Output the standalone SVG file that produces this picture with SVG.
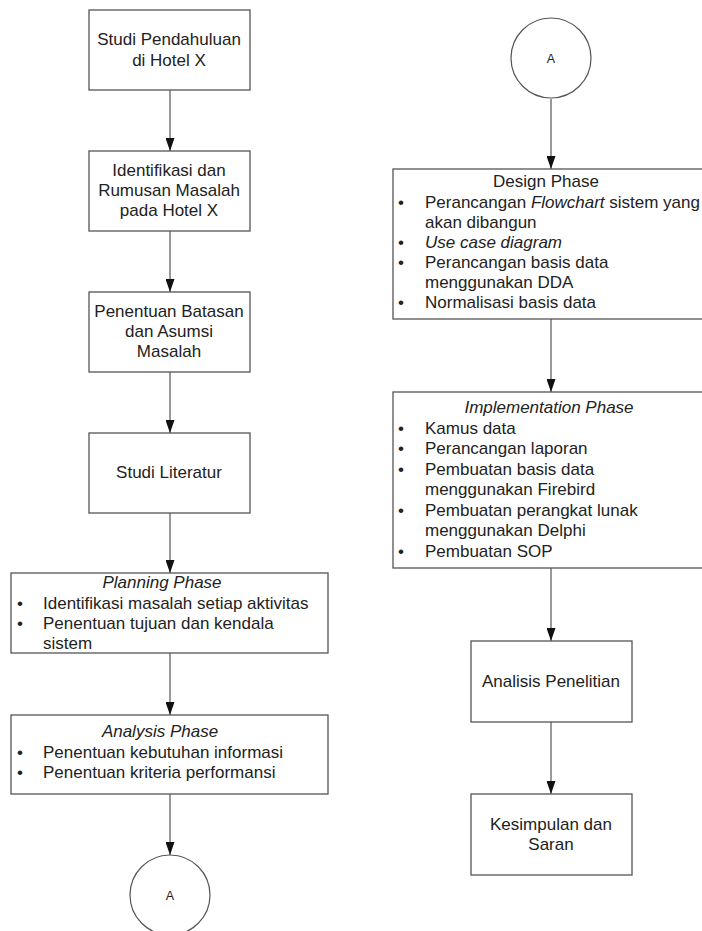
<svg xmlns="http://www.w3.org/2000/svg" width="702" height="931" viewBox="0 0 702 931">
<defs>
<marker id="ah" markerUnits="userSpaceOnUse" markerWidth="9" markerHeight="13" refX="4.5" refY="13" orient="0" viewBox="0 0 9 13">
<path d="M0,0 L9,0 L4.5,13 Z" fill="#111"/>
</marker>
<style>
.box{fill:#fff;stroke:#555;stroke-width:1.3}
.t{font-family:"Liberation Sans",Arial,sans-serif;font-size:17px;fill:#222}
.c{text-anchor:middle}
.i{font-style:italic}
.a{font-family:"Liberation Sans",Arial,sans-serif;font-size:12.5px;fill:#222;text-anchor:middle}
.e{stroke:#555;stroke-width:1.2;fill:none;marker-end:url(#ah)}
</style>
</defs>
<rect width="702" height="931" fill="#fff"/>
<g id="connectors">
<line class="e" x1="170" y1="90" x2="170" y2="151"/>
<line class="e" x1="170" y1="231" x2="170" y2="292"/>
<line class="e" x1="170" y1="372" x2="170" y2="433"/>
<line class="e" x1="170" y1="513" x2="170" y2="573"/>
<line class="e" x1="170" y1="653" x2="170" y2="715"/>
<line class="e" x1="170" y1="794" x2="170" y2="855"/>
<line class="e" x1="551" y1="99" x2="551" y2="169"/>
<line class="e" x1="551" y1="319" x2="551" y2="392"/>
<line class="e" x1="551" y1="568" x2="551" y2="641"/>
<line class="e" x1="551" y1="722" x2="551" y2="794"/>
</g>
<g id="n1">
<rect class="box" x="89" y="10" width="161" height="80"/>
<text class="t c" x="169" y="45">Studi Pendahuluan</text>
<text class="t c" x="169" y="66">di Hotel X</text>
</g>
<g id="n2">
<rect class="box" x="89" y="151" width="161" height="80"/>
<text class="t c" x="169" y="176">Identifikasi dan</text>
<text class="t c" x="169" y="196">Rumusan Masalah</text>
<text class="t c" x="169" y="216">pada Hotel X</text>
</g>
<g id="n3">
<rect class="box" x="89" y="292" width="161" height="80"/>
<text class="t c" x="169" y="317">Penentuan Batasan</text>
<text class="t c" x="169" y="337">dan Asumsi</text>
<text class="t c" x="169" y="357">Masalah</text>
</g>
<g id="n4">
<rect class="box" x="89" y="433" width="161" height="80"/>
<text class="t c" x="169" y="478">Studi Literatur</text>
</g>
<g id="n5">
<rect class="box" x="11" y="573" width="317" height="80"/>
<text class="t c i" x="162" y="588">Planning Phase</text>
<text class="t" x="17" y="609">•</text>
<text class="t" x="43" y="609">Identifikasi masalah setiap aktivitas</text>
<text class="t" x="17" y="629">•</text>
<text class="t" x="43" y="629">Penentuan tujuan dan kendala</text>
<text class="t" x="43" y="649">sistem</text>
</g>
<g id="n6">
<rect class="box" x="11" y="715" width="317" height="79"/>
<text class="t c i" x="160" y="737">Analysis Phase</text>
<text class="t" x="17" y="758">•</text>
<text class="t" x="43" y="758">Penentuan kebutuhan informasi</text>
<text class="t" x="17" y="778">•</text>
<text class="t" x="43" y="778">Penentuan kriteria performansi</text>
</g>
<g id="n7">
<circle cx="170" cy="895" r="40" fill="#fff" stroke="#555" stroke-width="1.2"/>
<text class="a" x="170" y="900">A</text>
</g>
<g id="n8">
<circle cx="551" cy="58" r="40" fill="#fff" stroke="#555" stroke-width="1.2"/>
<text class="a" x="551" y="63">A</text>
</g>
<g id="n9">
<rect class="box" x="393" y="169" width="316" height="150"/>
<text class="t c" x="546" y="187">Design Phase</text>
<text class="t" x="398" y="208">•</text>
<text class="t" x="425" y="208">Perancangan <tspan class="i">Flowchart</tspan> sistem yang</text>
<text class="t" x="425" y="228">akan dibangun</text>
<text class="t" x="398" y="248">•</text>
<text class="t i" x="425" y="248">Use case diagram</text>
<text class="t" x="398" y="268">•</text>
<text class="t" x="425" y="268">Perancangan basis data</text>
<text class="t" x="425" y="288">menggunakan DDA</text>
<text class="t" x="398" y="308">•</text>
<text class="t" x="425" y="308">Normalisasi basis data</text>
</g>
<g id="n10">
<rect class="box" x="393" y="392" width="316" height="176"/>
<text class="t c i" x="549" y="413">Implementation Phase</text>
<text class="t" x="398" y="434">•</text>
<text class="t" x="425" y="434">Kamus data</text>
<text class="t" x="398" y="454">•</text>
<text class="t" x="425" y="454">Perancangan laporan</text>
<text class="t" x="398" y="475">•</text>
<text class="t" x="425" y="475">Pembuatan basis data</text>
<text class="t" x="425" y="495">menggunakan Firebird</text>
<text class="t" x="398" y="516">•</text>
<text class="t" x="425" y="516">Pembuatan perangkat lunak</text>
<text class="t" x="425" y="536">menggunakan Delphi</text>
<text class="t" x="398" y="557">•</text>
<text class="t" x="425" y="557">Pembuatan SOP</text>
</g>
<g id="n11">
<rect class="box" x="471" y="641" width="161" height="81"/>
<text class="t c" x="551" y="687">Analisis Penelitian</text>
</g>
<g id="n12">
<rect class="box" x="471" y="794" width="161" height="81"/>
<text class="t c" x="551" y="830">Kesimpulan dan</text>
<text class="t c" x="551" y="850">Saran</text>
</g>
</svg>
